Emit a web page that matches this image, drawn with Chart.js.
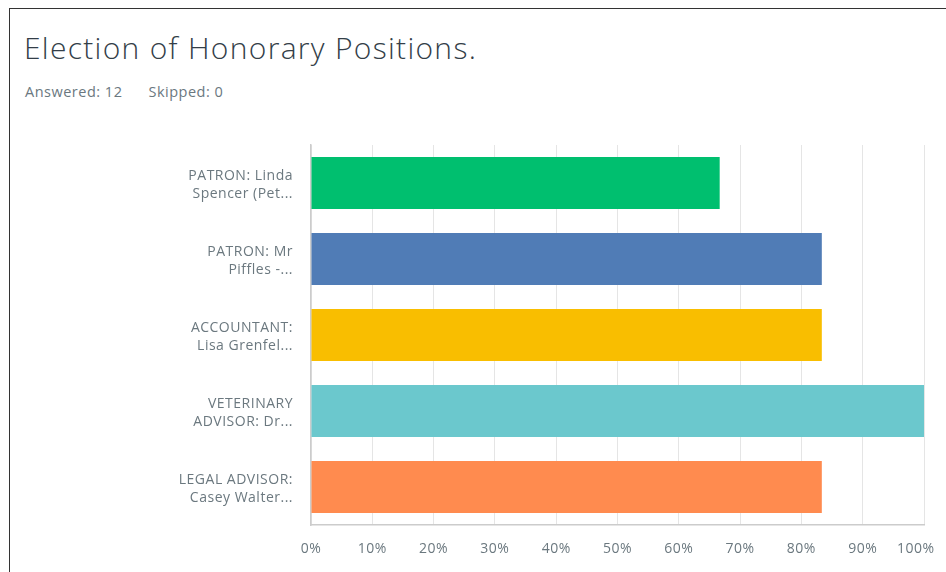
<!DOCTYPE html>
<html>
<head>
<meta charset="utf-8">
<script src="https://cdn.jsdelivr.net/npm/chart.js@4.4.1/dist/chart.umd.min.js"></script>
<style>
  html, body { margin: 0; padding: 0; background: #fff; }
  body { width: 946px; height: 572px; position: relative; overflow: hidden; font-family: "Open Sans", sans-serif; }
  #frame { position: absolute; left: 9px; top: 8px; width: 960px; height: 600px; border-top: 1.5px solid #333; border-left: 1.5px solid #333; }
  #title { position: absolute; left: 24px; top: 27px; font-size: 30px; font-weight: 300; color: #333e48; white-space: nowrap; letter-spacing: 1.3px; }
  #sub { position: absolute; left: 25px; top: 82px; font-size: 14.5px; color: #6b787f; white-space: nowrap; letter-spacing: 0.5px; }
  #sub span { margin-right: 26px; }
  #wrap { position: absolute; left: 0; top: 0; width: 946px; height: 572px; }
</style>
</head>
<body>
<div id="frame"></div>
<div id="title">Election of Honorary Positions.</div>
<div id="sub"><span>Answered: 12</span><span>Skipped: 0</span></div>
<div id="wrap"><canvas id="c" width="946" height="572"></canvas></div>
<script>
const categories = [
  ["PATRON: Linda", "Spencer (Pet..."],
  ["PATRON: Mr", "Piffles -..."],
  ["ACCOUNTANT:", "Lisa Grenfel..."],
  ["VETERINARY", "ADVISOR: Dr..."],
  ["LEGAL ADVISOR:", "Casey Walter..."]
];
const percentValues = [66.67, 83.33, 83.33, 100, 83.33];
const barColors = ["#00BF6F", "#507CB6", "#F9BE00", "#6BC8CD", "#FF8B4F"];
const tickLabelSuffix = "%";

const spacingPlugin = {
  id: 'spacing',
  beforeDraw(chart) { chart.ctx.letterSpacing = '0.5px'; }
};

new Chart(document.getElementById('c'), {
  type: 'bar',
  data: {
    labels: categories,
    datasets: [{
      data: percentValues,
      backgroundColor: barColors,
      borderWidth: 0,
      barPercentage: 0.684,
      categoryPercentage: 1.0
    }]
  },
  plugins: [spacingPlugin],
  options: {
    indexAxis: 'y',
    responsive: false,
    animation: false,
    devicePixelRatio: 1,
    layout: { padding: { left: 10, top: 145, right: 22, bottom: 0 } },
    plugins: { legend: { display: false }, tooltip: { enabled: false }, title: { display: false } },
    scales: {
      x: {
        min: 0, max: 100,
        ticks: {
          stepSize: 10,
          callback: v => v === 100 ? v + tickLabelSuffix + '\u00a0\u00a0\u00a0\u00a0' : v + tickLabelSuffix,
          color: '#6b787f',
          font: { family: 'Open Sans', size: 14 },
          padding: 16,
          maxRotation: 0
        },
        grid: { color: '#e5e5e5', drawTicks: false, lineWidth: 1 },
        border: { color: '#cccccc', width: 1.5 },
        afterFit: s => { s.height = 47; s.paddingLeft = 0; s.paddingRight = 0; }
      },
      y: {
        ticks: {
          color: '#6b787f',
          font: { family: 'Open Sans', size: 14, lineHeight: 1.35 },
          padding: 18,
          labelOffset: 2
        },
        grid: { display: false, drawTicks: false },
        border: { color: '#cccccc', width: 1.5 },
        afterFit: s => { s.width = 301; }
      }
    }
  }
});
</script>
</body>
</html>
